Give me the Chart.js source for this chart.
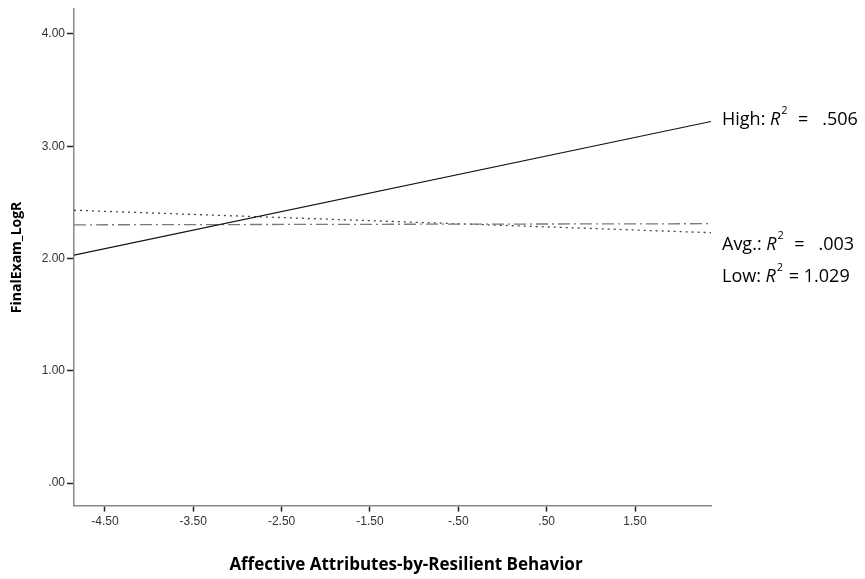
<!DOCTYPE html>
<html>
<head>
<meta charset="utf-8">
<script src="https://cdn.jsdelivr.net/npm/chart.js@4.4.1/dist/chart.umd.min.js"></script>
<style>
  html, body { margin: 0; padding: 0; background: #fff; }
  #wrap { width: 865px; height: 579px; position: relative; }
</style>
</head>
<body>
<div id="wrap"><canvas id="c" width="865" height="579"></canvas></div>
<script>
// Simple slopes: predicted FinalExam_LogR across the moderator range
const xEnds = [-4.85, 2.36];
const highY = [2.03, 3.22];
const avgY = [2.30, 2.31];
const lowY = [2.43, 2.23];

const xTicks = [-4.5, -3.5, -2.5, -1.5, -0.5, 0.5, 1.5];
const xTickLabels = ['-4.50', '-3.50', '-2.50', '-1.50', '-.50', '.50', '1.50'];
const yTicks = [0, 1, 2, 3, 4];
const yTickLabels = ['.00', '1.00', '2.00', '3.00', '4.00'];

const seriesNames = ['High', 'Avg.', 'Low'];
const rSquared = ['.506', '.003', '1.029'];

const pts = ys => xEnds.map((x, i) => ({ x: x, y: ys[i] }));

const TEXT_FONT = '"Open Sans", "Liberation Sans", sans-serif';

// R² annotations to the right of the plot, plus the centred x-axis caption
const labelPlugin = {
  id: 'r2labels',
  afterDraw(chart) {
    const ctx = chart.ctx;
    const area = chart.chartArea;
    const x0 = area.right + 11;
    const rows = [120, 245, 277];
    ctx.save();
    ctx.fillStyle = '#000';
    ctx.textBaseline = 'middle';
    rows.forEach((y, i) => {
      let x = x0;
      ctx.font = '18px ' + TEXT_FONT;
      const pre = seriesNames[i] + ': ';
      ctx.fillText(pre, x, y);
      x += ctx.measureText(pre).width;
      ctx.font = 'italic 18px ' + TEXT_FONT;
      ctx.fillText('R', x, y);
      x += ctx.measureText('R').width;
      ctx.font = '11px ' + TEXT_FONT;
      ctx.fillText('2', x + 1, y - 9);
      x += ctx.measureText('2').width + 2;
      ctx.font = '18px ' + TEXT_FONT;
      const rest = i === 2 ? ' = ' + rSquared[i] : '  =   ' + rSquared[i];
      ctx.fillText(rest, x, y);
    });
    ctx.font = 'bold 17px ' + TEXT_FONT;
    ctx.textAlign = 'center';
    ctx.fillText('Affective Attributes-by-Resilient Behavior', area.left + 332, 565);
    ctx.restore();
  }
};

new Chart(document.getElementById('c'), {
  type: 'scatter',
  data: {
    datasets: [
      { label: 'High', data: pts(highY), showLine: true, borderColor: '#111', borderWidth: 1.2, pointRadius: 0 },
      { label: 'Avg.', data: pts(avgY), showLine: true, borderColor: '#7a7a7a', borderWidth: 1.3, borderDash: [12, 4, 2, 4], pointRadius: 0 },
      { label: 'Low', data: pts(lowY), showLine: true, borderColor: '#444', borderWidth: 1.3, borderDash: [2, 4], pointRadius: 0 }
    ]
  },
  options: {
    responsive: false,
    animation: false,
    layout: { padding: { top: 8, right: 154, bottom: 47, left: 4 } },
    plugins: { legend: { display: false }, tooltip: { enabled: false } },
    scales: {
      x: {
        type: 'linear',
        min: xEnds[0],
        max: xEnds[1],
        afterBuildTicks: s => { s.ticks = xTicks.map(v => ({ value: v })); },
        ticks: {
          callback: (v) => xTickLabels[xTicks.indexOf(v)],
          color: '#333',
          font: { family: '"Liberation Sans", sans-serif', size: 12 },
          padding: 3,
          maxRotation: 0
        },
        grid: { drawOnChartArea: false, drawTicks: true, tickLength: 6, color: '#222', tickWidth: 1.5 },
        border: { color: '#888', width: 1.5 }
      },
      y: {
        type: 'linear',
        min: -0.2,
        max: 4.22,
        afterBuildTicks: s => { s.ticks = yTicks.map(v => ({ value: v })); },
        ticks: {
          callback: (v) => yTickLabels[yTicks.indexOf(v)],
          color: '#333',
          font: { family: '"Liberation Sans", sans-serif', size: 12 },
          padding: 2
        },
        grid: { drawOnChartArea: false, drawTicks: true, tickLength: 7, color: '#222', tickWidth: 1.5 },
        border: { color: '#888', width: 1.5 },
        title: {
          display: true,
          text: 'FinalExam_LogR',
          color: '#000',
          font: { family: TEXT_FONT, size: 14, weight: 'bold' },
          padding: { top: 5, bottom: 6 }
        },
        afterFit: s => { s.width = 70; }
      }
    }
  },
  plugins: [labelPlugin]
});
</script>
</body>
</html>
